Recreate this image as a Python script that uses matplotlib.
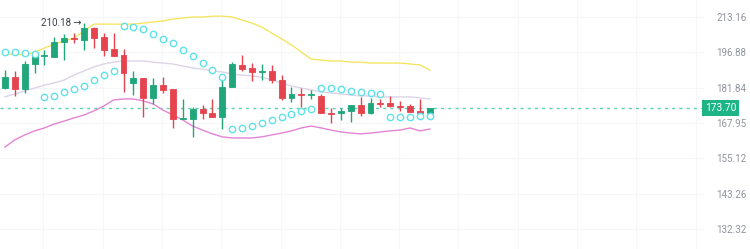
import numpy as np
import matplotlib
matplotlib.use('Agg')
import matplotlib.pyplot as plt
from matplotlib.ticker import NullLocator, FixedLocator

# candle data
opens = [181.8, 186.2, 181.3, 191.8, 195.3, 194.8, 201.5, 203.3, 202.4, 208.0, 203.8, 198.4, 195.7, 183.8, 185.8,
         177.7, 182.9, 181.3, 169.5, 169.5, 173.3, 171.8, 170.2, 182.1, 191.4, 190.1, 188.4, 188.8, 185.0, 177.7,
         179.3, 178.9, 178.5, 171.8, 171.8, 172.6, 174.9, 171.8, 175.7, 175.7, 174.5, 174.5, 172.6, 171.8]
highs = [189.2, 188.8, 193.1, 196.9, 197.9, 203.8, 205.2, 205.6, 210.18, 208.4, 205.6, 205.6, 198.4, 188.8, 185.8,
         185.8, 186.2, 181.3, 177.3, 174.1, 174.9, 177.3, 187.1, 192.6, 195.7, 192.2, 191.8, 191.4, 187.1, 182.1,
         181.8, 180.9, 179.3, 173.7, 173.7, 174.9, 178.1, 177.7, 177.3, 178.5, 176.5, 175.3, 177.3, 173.9]
lows = [181.3, 178.5, 179.7, 187.9, 191.4, 194.8, 193.5, 201.1, 197.9, 198.8, 195.3, 195.3, 180.1, 178.9, 170.2,
        175.3, 179.7, 166.1, 169.5, 162.8, 169.5, 170.2, 165.7, 182.1, 188.8, 184.6, 185.0, 183.8, 176.9, 176.1,
        174.1, 177.3, 171.8, 168.0, 169.1, 168.3, 170.6, 171.4, 174.1, 174.1, 172.6, 172.2, 171.8, 171.0]
closes = [186.2, 181.3, 191.8, 195.3, 195.7, 201.5, 203.3, 202.9, 208.0, 203.3, 197.9, 195.3, 187.9, 185.8, 177.7,
          182.9, 180.9, 169.5, 169.9, 173.3, 171.8, 170.2, 182.1, 191.8, 189.6, 188.4, 188.8, 185.0, 177.7, 179.3,
          178.9, 179.3, 171.8, 171.5, 172.6, 174.9, 171.8, 175.7, 175.3, 174.5, 174.1, 172.2, 171.8, 173.7]

# bollinger bands
bb_upper = [196.1, 196.1, 195.7, 197.0, 198.8, 200.6, 202.0, 203.3, 206.6, 209.8, 209.8, 209.8, 209.8, 209.8, 210.3,
            210.8, 211.3, 212.2, 212.7, 213.2, 213.2, 213.6, 213.6, 213.2, 211.7, 210.3, 208.4, 205.6, 202.9, 200.2,
            197.0, 193.9, 193.5, 193.1, 193.1, 192.6, 192.6, 192.2, 192.2, 192.2, 192.2, 191.8, 191.4, 189.2]
bb_mid = [178.1, 179.3, 180.5, 181.7, 182.9, 183.8, 185.0, 187.1, 188.8, 190.5, 191.8, 192.6, 193.1, 193.1, 193.1,
          192.6, 192.2, 191.8, 190.9, 190.1, 189.6, 188.8, 188.4, 187.5, 187.1, 186.7, 186.2, 185.0, 183.8, 182.5,
          181.7, 180.9, 180.1, 179.7, 179.3, 178.9, 178.5, 178.5, 178.1, 178.1, 178.1, 178.1, 177.7, 177.3]
bb_lower = [159.1, 161.7, 163.5, 165.0, 166.1, 167.6, 168.7, 169.9, 171.0, 172.6, 174.5, 176.9, 177.3, 177.3, 176.5,
            175.3, 172.9, 171.0, 169.1, 166.8, 165.3, 163.9, 162.8, 162.4, 162.4, 162.4, 162.8, 163.5, 164.2, 165.0,
            166.1, 166.8, 166.1, 165.3, 164.6, 164.2, 163.9, 164.2, 164.6, 165.0, 165.3, 166.1, 165.0, 165.7]

# parabolic sar
sar = [197.0, 197.0, 196.6, 196.1, 178.1, 178.5, 180.1, 181.3, 182.5, 185.0, 187.1, 188.8, 208.9, 208.4, 207.5,
       205.2, 202.9, 201.1, 197.9, 195.3, 192.2, 189.2, 186.3, 165.7, 166.1, 166.8, 168.0, 169.1, 170.2, 171.4,
       172.6, 173.3, 181.7, 181.7, 181.3, 180.5, 180.1, 179.7, 179.3, 170.2, 170.2, 170.2, 170.6, 170.6]

y_ticks = [213.16, 196.88, 181.84, 167.95, 155.12, 143.26, 132.32]
last_price = 173.70
max_label = '210.18'

GREEN = '#1fa67a'
RED = '#e5444f'

plt.rcParams['font.family'] = ['Roboto', 'DejaVu Sans']

fig = plt.figure(figsize=(7.5, 2.49), dpi=100)
ax = fig.add_axes([0, 0, 705 / 750, 1])
ax.set_yscale('log')

x = np.arange(len(opens))
o = np.array(opens)
c = np.array(closes)
up = c >= o
colors = np.where(up, GREEN, RED)

# grid (very faint)
for t in y_ticks:
    ax.axhline(t, color='#f5f6f8', lw=0.8, zorder=0)
for gx in np.arange(3.9, 72, 6):
    ax.axvline(gx, color='#f6f7f9', lw=0.8, zorder=0)

# bands
ax.plot(x, bb_upper, color='#f4e352', lw=0.9, zorder=2)
ax.plot(x, bb_mid, color='#dcd4e6', lw=1, zorder=2)
ax.plot(x, bb_lower, color='#e285d6', lw=1, zorder=2)

# candles
ax.vlines(x, lows, highs, colors=colors, lw=1, zorder=3)
bottoms = np.minimum(o, c)
heights = np.abs(c - o)
ax.bar(x, heights, bottom=bottoms, width=0.6, color=colors, edgecolor=colors, lw=0.6, zorder=4)

# sar
ax.plot(x, sar, ls='none', marker='o', ms=4.6, mfc='white', mec='#5fe2e8', mew=1, zorder=5)

# last price line
ax.axhline(last_price, color='#5cd3ae', lw=1, ls=(0, (2.2, 3)), zorder=1)
ax.text(1.0, last_price, '173.70', transform=ax.get_yaxis_transform(), ha='left', va='center',
        fontsize=7.3, color='white', zorder=6, clip_on=False,
        bbox=dict(boxstyle='square,pad=0.3', fc='#1db585', ec='none'))

# max annotation
ax.text(np.argmax(highs) - 0.25, float(np.max(highs)), max_label + ' \u2192', ha='right', va='center',
        fontsize=7, color='#3a3f4b', zorder=6)

ax.set_xlim(-0.5, 70.85)
ax.set_ylim(126.5, 221.5)
ax.yaxis.tick_right()
ax.yaxis.set_major_locator(FixedLocator(y_ticks))
ax.yaxis.set_minor_locator(NullLocator())
ax.set_yticklabels(['%.2f' % t for t in y_ticks])
ax.tick_params(axis='y', length=0, pad=8, labelsize=7, labelcolor='#8f939b')
ax.set_xticks([])
for s in ax.spines.values():
    s.set_visible(False)

fig.savefig('out.png', dpi=100)
